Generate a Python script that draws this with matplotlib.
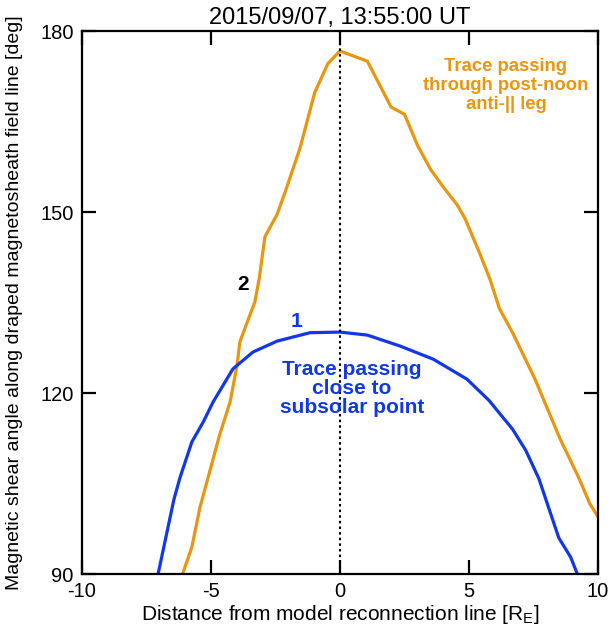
import matplotlib.pyplot as plt

# Trace 2: passing through post-noon anti-parallel leg
x_trace2 = [-6.10, -5.74, -5.43, -5.08, -4.67, -4.26, -3.99, -3.88, -3.30, -3.13, -2.91,
            -2.44, -2.11, -1.55, -0.98, -0.47, 0.0, 1.06, 1.98, 2.50, 3.01, 3.52, 4.03,
            4.54, 4.85, 5.43, 5.81, 6.18, 6.69, 7.56, 8.53, 9.25, 9.69, 10.0]
y_trace2 = [90.0, 94.5, 101.0, 106.5, 113.0, 118.5, 124.6, 128.5, 135.1, 139.0, 145.9,
            149.6, 153.5, 160.6, 169.8, 174.6, 176.7, 175.0, 167.4, 166.2, 161.0, 157.0,
            154.0, 151.2, 148.9, 143.0, 138.9, 134.0, 130.0, 122.3, 112.4, 106.0, 101.6, 99.5]

# Trace 1: passing close to the subsolar point
x_trace1 = [-7.05, -6.44, -6.20, -5.74, -5.30, -4.92, -4.15, -3.37, -2.44, -1.16, 0.0,
            1.06, 2.32, 3.62, 4.92, 5.77, 6.69, 7.20, 7.71, 8.48, 8.94, 9.2]
y_trace1 = [90.0, 102.3, 106.0, 111.9, 115.2, 118.5, 124.0, 126.8, 128.6, 130.0, 130.1,
            129.6, 127.8, 125.6, 122.3, 118.8, 114.0, 110.5, 105.8, 96.0, 92.8, 90.0]

orange = '#E8960F'
blue = '#1238E6'

plt.rcParams['font.family'] = ['Liberation Sans', 'DejaVu Sans']
plt.rcParams['axes.unicode_minus'] = False

fig = plt.figure(figsize=(6.1, 6.27), dpi=100)
ax = fig.add_axes([0.1344, 0.0845, 0.8459, 0.866])

ax.plot(x_trace2, y_trace2, color=orange, lw=2.3)
ax.plot(x_trace1, y_trace1, color=blue, lw=2.3)
ax.axvline(0, color='black', ls=(0, (1.2, 1.5)), lw=1.5)

ax.set_xlim(-10, 10)
ax.set_ylim(90, 180)
ax.set_xticks([-10, -5, 0, 5, 10])
ax.set_yticks([90, 120, 150, 180])
ax.tick_params(direction='in', length=10, width=1.6, top=True, right=True,
               labelsize=14.5)
ax.tick_params(axis='x', pad=6)
ax.tick_params(axis='y', pad=6)
for s in ax.spines.values():
    s.set_linewidth(1.6)

ax.set_title('2015/09/07, 13:55:00 UT', fontsize=17, pad=5)
ax.set_xlabel('Distance from model reconnection line [R$_\\mathregular{E}$]', fontsize=15)
ax.set_ylabel('Magnetic shear angle along draped magnetosheath field line [deg]',
              fontsize=14)
ax.xaxis.set_label_coords(0.5, -0.054)
ax.yaxis.set_label_coords(-0.13, 0.5)
ax.yaxis.label.set_va('center')

ax.text(6.43, 171, 'Trace passing\nthrough post-noon\nanti-|| leg', color=orange,
        fontsize=13.3, fontweight='bold', ha='center', va='center', linespacing=1.15)
ax.text(0.47, 120.7, 'Trace passing\nclose to\nsubsolar point', color=blue,
        fontsize=15, fontweight='bold', ha='center', va='center', linespacing=1.0)
ax.text(-1.67, 131.8, '1', color=blue, fontsize=15, fontweight='bold',
        ha='center', va='center')
ax.text(-3.76, 138, '2', color='black', fontsize=15, fontweight='bold',
        ha='center', va='center')

fig.savefig('out.png', dpi=100)
